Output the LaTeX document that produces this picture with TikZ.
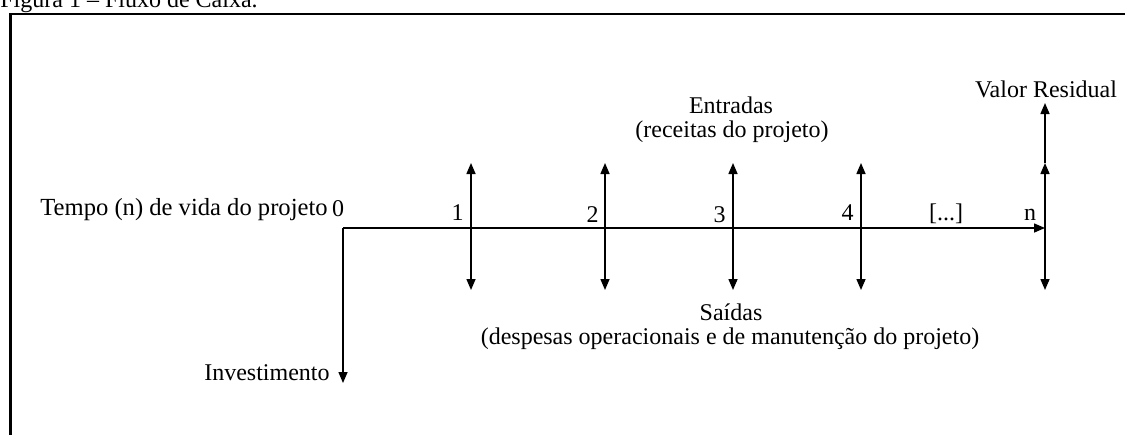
\documentclass[tikz,border=0pt]{standalone}
\usepackage{fontspec}
\setmainfont{Liberation Serif}
\usetikzlibrary{arrows.meta}
\begin{document}
\begin{tikzpicture}[x=0.5pt,y=-0.5pt,
  lbl/.style={inner sep=0pt,font=\fontsize{12}{12}\selectfont},
  axis/.style={line width=0.75pt,-{Triangle[width=4.5pt,length=5.5pt]}},
  flow/.style={line width=0.75pt,{Triangle[width=4.5pt,length=5.5pt]}-{Triangle[width=4.5pt,length=5.5pt]}},
  frame/.style={line width=1.3pt}]
\clip (0,0) rectangle (1125,434);
\useasboundingbox (0,0) rectangle (1125,434);
% caption and frame
\node[lbl,anchor=base west] (cap) at (0,7) {Figura 1 – Fluxo de Caixa.};
\coordinate (fl) at (10.5,460);
\coordinate (ftl) at (10.5,14);
\coordinate (ftr) at (1140,14);
\draw[frame] (fl) -- (ftl) -- (ftr);
% axis
\coordinate (o) at (343,228);
\coordinate (n) at (1045,228);
\draw[axis] (o) -- (n);
\coordinate (inv) at (343,383);
\draw[axis] (o) -- (inv);
% flows
\foreach \i/\x in {1/471,2/605,3/733,4/861}{
  \coordinate (u\i) at (\x,163);
  \coordinate (d\i) at (\x,290);
  \draw[flow] (u\i) -- (d\i);
}
\coordinate (un) at (1045,163);
\coordinate (dn) at (1045,290);
\coordinate (vr) at (1045,103);
\draw[flow] (un) -- (dn);
\draw[axis] (un) -- (vr);
% labels
\node[lbl,anchor=base west,font=\fontsize{12.3}{12.3}\selectfont] (tempo) at (40,215) {Tempo (n) de vida do projeto};
\node[lbl,anchor=base] (l0) at (338,216) {0};
\node[lbl,anchor=base east] (l1) at (464,220) {1};
\node[lbl,anchor=base east] (l2) at (599,222) {2};
\node[lbl,anchor=base east] (l3) at (726,222) {3};
\node[lbl,anchor=base east] (l4) at (854,220) {4};
\node[lbl,anchor=base] (ldots) at (946,220) {[...]};
\node[lbl,anchor=base] (ln) at (1030,220) {n};
\node[lbl,anchor=base] (vrl) at (1046,97) {Valor Residual};
\node[lbl,anchor=base] (ent) at (731,113) {Entradas};
\node[lbl,anchor=base] (rec) at (732,137) {(receitas do projeto)};
\node[lbl,anchor=base] (sai) at (731,320) {Saídas};
\node[lbl,anchor=base] (desp) at (730,344) {(despesas operacionais e de manutenção do projeto)};
\node[lbl,anchor=base east] (invl) at (330,380) {Investimento};
\end{tikzpicture}
\end{document}
